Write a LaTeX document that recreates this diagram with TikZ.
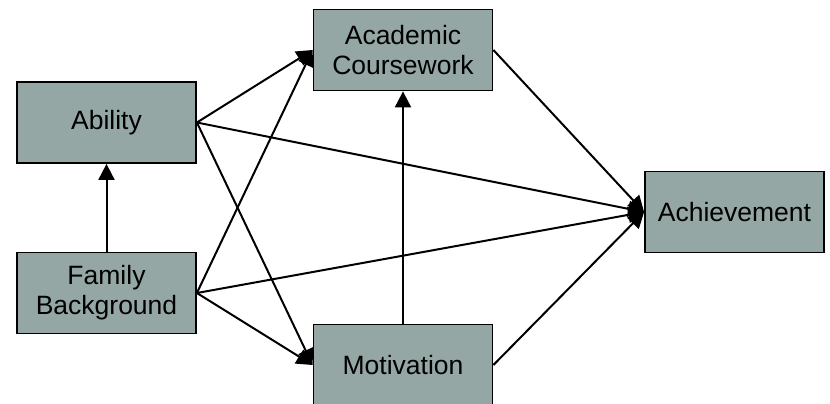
\documentclass[tikz,border=0pt]{standalone}
\usepackage{fontspec}
\setmainfont{Liberation Sans}
\usetikzlibrary{arrows.meta}
\definecolor{boxfill}{RGB}{149,167,164}
\begin{document}
\begin{tikzpicture}[x=1pt,y=-1pt,
  varbox/.style={draw=black, line width=1.8pt, fill=boxfill, inner sep=0pt,
    minimum width=179pt, minimum height=81pt, align=center,
    font=\fontsize{26.5}{30}\selectfont},
  path/.style={line width=2pt, -{Triangle[length=16pt,width=16pt]}}]
  \useasboundingbox (0,0) rectangle (830,404);
  \begin{scope}
    \clip (0,0) rectangle (830,404);
    \node[varbox] (abil) at (106.5,122.5) {Ability};
    \node[varbox] (acad) at (403,50) {Academic\\Coursework};
    \node[varbox] (achv) at (734.5,212) {Achievement};
    \node[varbox] (fam)  at (106.5,293) {Family\\Background};
    \node[varbox] (motv) at (403,365) {Motivation};

    \draw[path] (fam.north) -- (abil.south);
    \draw[path] (motv.north) -- (acad.south);
    \draw[path] (abil.east) -- (acad.west);
    \draw[path] (abil.east) -- (achv.west);
    \draw[path] (abil.east) -- (motv.west);
    \draw[path] (fam.east) -- (acad.west);
    \draw[path] (fam.east) -- (achv.west);
    \draw[path] (fam.east) -- (motv.west);
    \draw[path] (acad.east) -- (achv.west);
    \draw[path] (motv.east) -- (achv.west);
  \end{scope}
\end{tikzpicture}
\end{document}
